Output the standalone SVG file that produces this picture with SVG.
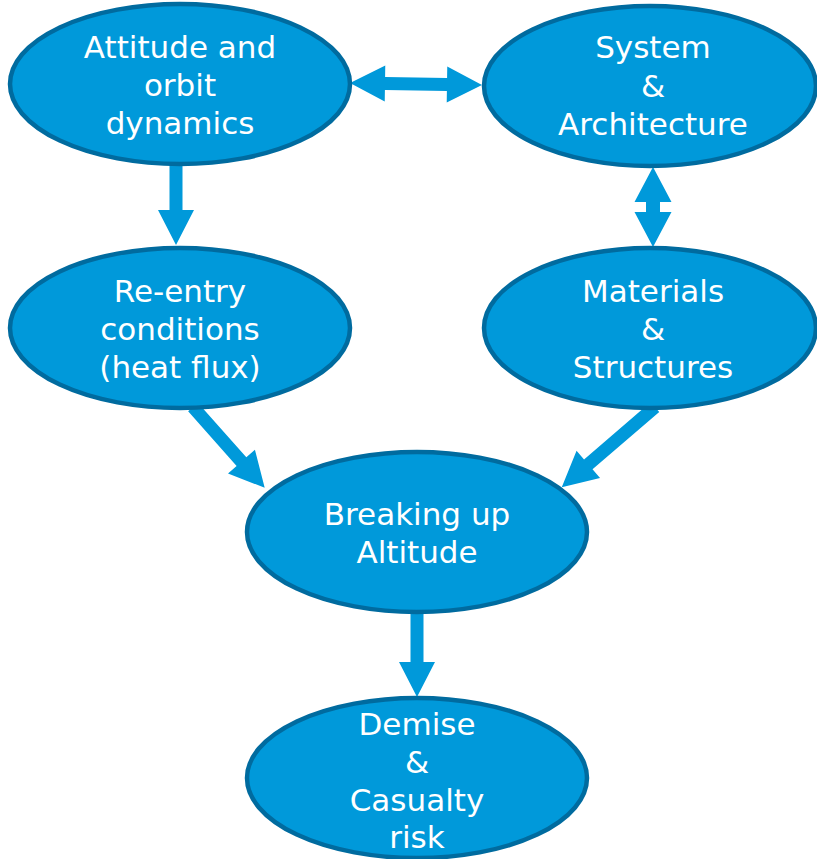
<svg xmlns="http://www.w3.org/2000/svg" width="817" height="859" viewBox="0 0 817 859">
  <style>
    .node ellipse { fill: #0099da; stroke: #006b9f; stroke-width: 4.5; }
    .node text { fill: #ffffff; font-family: "DejaVu Sans", Verdana, sans-serif; font-size: 31px; text-anchor: middle; }
    .arrow { fill: #0099da; stroke: none; }
  </style>
  <rect width="817" height="859" fill="#ffffff"/>

  <!-- connectors: block arrows drawn along +x then placed by transform -->
  <g id="connectors">
    <!-- Attitude and orbit dynamics <-> System & Architecture -->
    <polygon class="arrow" transform="translate(350,83) rotate(0.87)" points="35,-6.5 97,-6.5 97,-18 132,0 97,18 97,6.5 35,6.5 35,18 0,0 35,-18"/>
    <!-- System & Architecture <-> Materials & Structures -->
    <polygon class="arrow" transform="translate(653,167) rotate(90)" points="35,-7 45,-7 45,-18.5 80,0 45,18.5 45,7 35,7 35,18.5 0,0 35,-18.5"/>
    <!-- Attitude and orbit dynamics -> Re-entry conditions -->
    <polygon class="arrow" transform="translate(176,163) rotate(90)" points="0,-6.5 47,-6.5 47,-18 82,0 47,18 47,6.5 0,6.5"/>
    <!-- Re-entry conditions -> Breaking up Altitude -->
    <polygon class="arrow" transform="translate(193,407) rotate(48.4)" points="0,-6.5 73,-6.5 73,-18 108,0 73,18 73,6.5 0,6.5"/>
    <!-- Materials & Structures -> Breaking up Altitude -->
    <polygon class="arrow" transform="translate(655,407) rotate(139.3)" points="0,-6.5 88,-6.5 88,-18 123,0 88,18 88,6.5 0,6.5"/>
    <!-- Breaking up Altitude -> Demise & Casualty risk -->
    <polygon class="arrow" transform="translate(417,612) rotate(90)" points="0,-6.5 50,-6.5 50,-18 85,0 50,18 50,6.5 0,6.5"/>
  </g>

  <g id="attitude" class="node">
    <ellipse cx="180" cy="84" rx="170" ry="80"/>
    <text x="180" y="58">Attitude and</text>
    <text x="180" y="96">orbit</text>
    <text x="180" y="134">dynamics</text>
  </g>

  <g id="system" class="node">
    <ellipse cx="650" cy="86" rx="166" ry="80"/>
    <text x="653" y="58">System</text>
    <text x="653" y="97">&amp;</text>
    <text x="653" y="135">Architecture</text>
  </g>

  <g id="reentry" class="node">
    <ellipse cx="180" cy="328" rx="170" ry="80"/>
    <text x="180" y="302">Re-entry</text>
    <text x="180" y="340">conditions</text>
    <text x="180" y="378">(heat flux)</text>
  </g>

  <g id="materials" class="node">
    <ellipse cx="650" cy="328" rx="166" ry="80"/>
    <text x="653" y="302">Materials</text>
    <text x="653" y="340">&amp;</text>
    <text x="653" y="378">Structures</text>
  </g>

  <g id="breakup" class="node">
    <ellipse cx="417" cy="532" rx="170" ry="80"/>
    <text x="417" y="525">Breaking up</text>
    <text x="417" y="563">Altitude</text>
  </g>

  <g id="demise" class="node">
    <ellipse cx="417" cy="778" rx="170" ry="80"/>
    <text x="417" y="735">Demise</text>
    <text x="417" y="773">&amp;</text>
    <text x="417" y="811">Casualty</text>
    <text x="417" y="848">risk</text>
  </g>
</svg>
